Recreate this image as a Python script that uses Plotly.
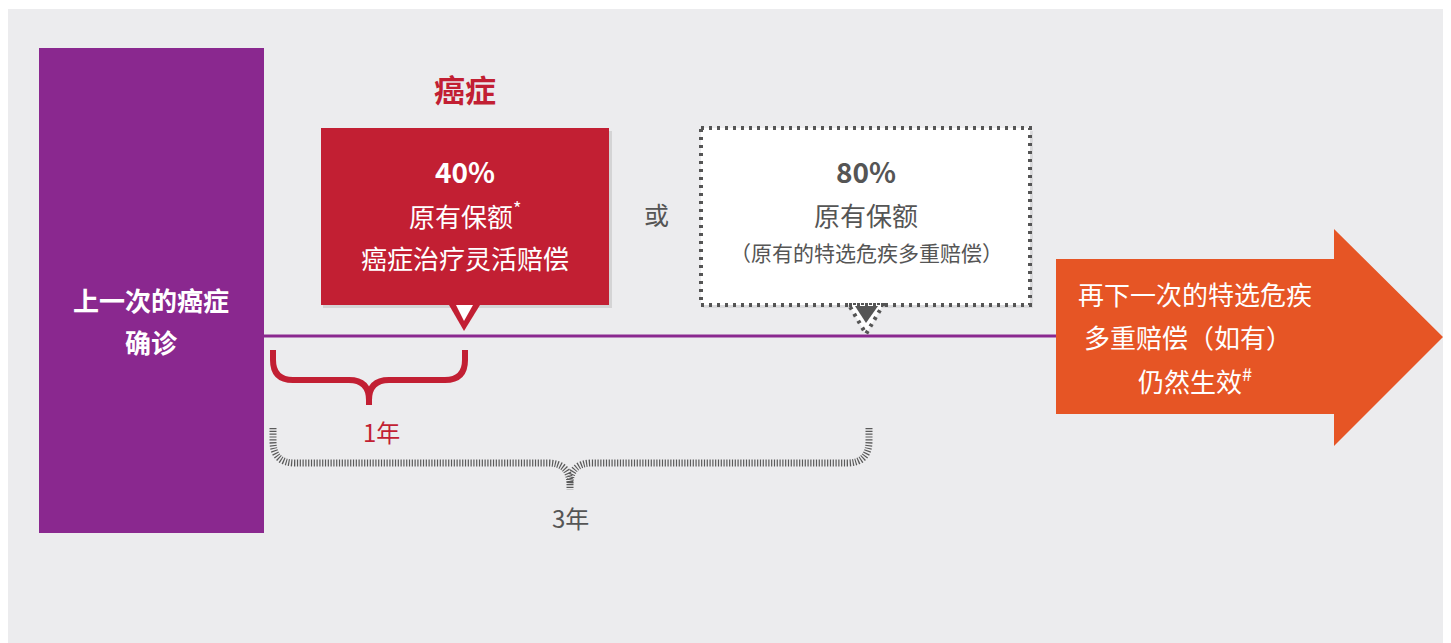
import plotly.graph_objects as go

# ---- content ----
title_cancer = "癌症"
left_box_lines = ["上一次的癌症", "确诊"]
red_box_lines = ["40%", "原有保额<sup>*</sup>", "癌症治疗灵活赔偿"]
or_text = "或"
dotted_box_lines = ["80%", "原有保额", "（原有的特选危疾多重赔偿）"]
arrow_lines = ["再下一次的特选危疾", "多重赔偿（如有）", "仍然生效<sup>#</sup>"]
span_labels = ["1年", "3年"]

W, H = 1451, 643
OFF = 8  # page body margin
FONT = "Noto Sans CJK SC"
PURPLE = "#8A288F"
RED = "#C21F33"
ORANGE = "#E65525"
GREY = "#555555"
PANEL = "#ECECEE"

fig = go.Figure()

def rect(x0, y0, x1, y1, fill, line=None, width=0, dash=None, opacity=1):
    fig.add_shape(type="rect", x0=x0, y0=y0, x1=x1, y1=y1, fillcolor=fill,
                  line=dict(color=line or fill, width=width, dash=dash),
                  opacity=opacity, layer="above")

def path(d, fill=None, line=None, width=0, dash=None):
    fig.add_shape(type="path", path=d, fillcolor=fill or "rgba(0,0,0,0)",
                  line=dict(color=line or "rgba(0,0,0,0)", width=width, dash=dash),
                  layer="above")

def text(x, y, s, size, color, bold=False, anchor="center"):
    fig.add_annotation(x=x, y=y, xref="x", yref="y", text=(f"<b>{s}</b>" if bold else s),
                       showarrow=False, xanchor=anchor, yanchor="middle",
                       font=dict(family=FONT, size=size, color=color))

def brace(xl, xr, ytop, ymid, xc, ybot, r):
    return (f"M {xl},{ytop} L {xl},{ymid-r} Q {xl},{ymid} {xl+r},{ymid} L {xc-r},{ymid} "
            f"Q {xc},{ymid} {xc},{ymid+r} L {xc},{ybot} "
            f"M {xr},{ytop} L {xr},{ymid-r} Q {xr},{ymid} {xr-r},{ymid} L {xc+r},{ymid} "
            f"Q {xc},{ymid} {xc},{ymid+r}")

# panel
fig.add_shape(type="rect", x0=6, y0=9, x1=1443, y1=H+5, fillcolor=PANEL, line_width=0, layer="below")

# timeline
fig.add_shape(type="line", x0=264, y0=336, x1=1058, y1=336, line=dict(color=PURPLE, width=3), layer="above")

# left purple block
rect(39, 48, 264, 533, PURPLE)
text(151, 299, left_box_lines[0], 26, "white", bold=True)
text(151, 341, left_box_lines[1], 26, "white", bold=True)

# title
text(465, 88, title_cancer, 31, RED, bold=True)

# red box with shadow
rect(323, 131, 612, 308, "rgba(0,0,0,0.10)")
rect(321, 128, 609, 305, RED)
path("M 449,305 L 480,305 L 464,331 Z", fill=RED)
path("M 456,305 L 473,305 L 464,321 Z", fill="white")
text(465, 171, red_box_lines[0], 28, "white", bold=True)
text(465, 214, red_box_lines[1], 26, "white")
text(465, 257, red_box_lines[2], 26, "white")

# or
text(656, 214, or_text, 25, GREY)

# dotted box
rect(703, 131, 1033, 308, "rgba(0,0,0,0.07)")
rect(701, 128, 1030, 305, "white", line=GREY, width=4, dash="3px,5px")
path("M 849,305 L 883,305 L 866,334 Z", fill="white", line=GREY, width=4, dash="3px,5px")
path("M 855,306 L 878,306 L 866,323 Z", fill=GREY)
text(866, 171, dotted_box_lines[0], 28, GREY, bold=True)
text(866, 214, dotted_box_lines[1], 26, GREY)
text(866, 252, dotted_box_lines[2], 21, GREY)

# orange arrow
path("M 1056,259 L 1334,259 L 1334,229 L 1443,337 L 1334,446 L 1334,414 L 1056,414 Z", fill=ORANGE)
text(1195, 293, arrow_lines[0], 26, "white")
text(1188, 336, arrow_lines[1], 26, "white")
text(1195, 379, arrow_lines[2], 26, "white")

# braces
path(brace(273, 465, 350, 380, 369, 405, 20), line=RED, width=6)
text(381, 431, span_labels[0], 24, RED)
path(brace(273, 869, 428, 463, 570, 490, 22), line="#5A5A5A", width=7, dash="1.2px,1.6px")
text(570, 517, span_labels[1], 24, GREY)

fig.update_xaxes(range=[OFF, W], visible=False, fixedrange=True)
fig.update_yaxes(range=[H, OFF], visible=False, fixedrange=True)
fig.update_layout(width=W - OFF, height=H - OFF, margin=dict(l=0, r=0, t=0, b=0),
                  paper_bgcolor="white", plot_bgcolor="white", showlegend=False)

fig.write_html("out.html", config={"displayModeBar": False})
